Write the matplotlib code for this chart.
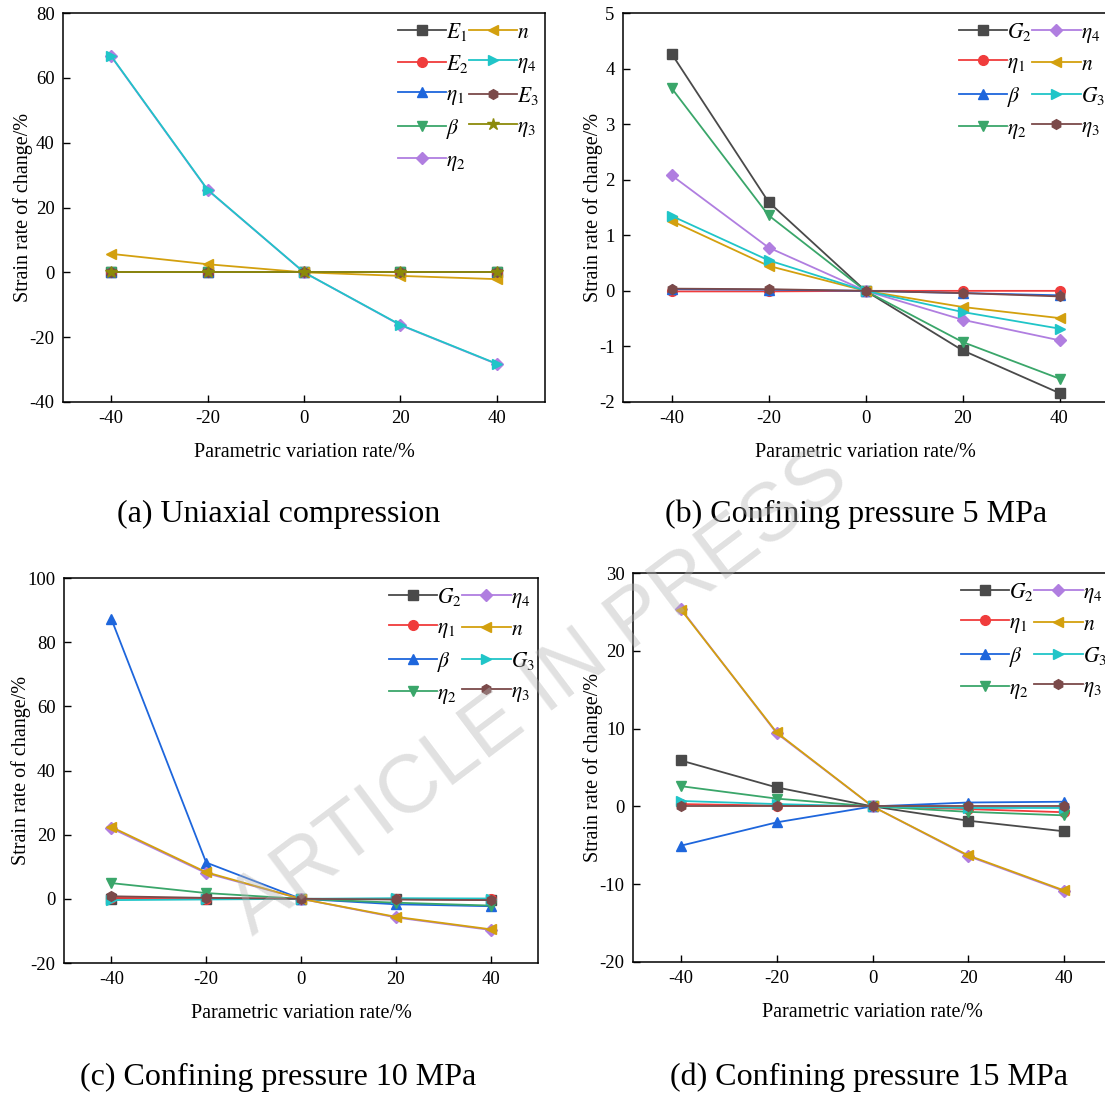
import numpy as np
import matplotlib
matplotlib.use("Agg")
import matplotlib.pyplot as plt

plt.rcParams['font.family'] = ['Liberation Serif', 'DejaVu Serif']
plt.rcParams['mathtext.fontset'] = 'stix'

# parameter variation (%) shared by all four panels
rates = [-40, -20, 0, 20, 40]

# (a) uniaxial compression
a_labels = [r'$E_1$', r'$E_2$', r'$\eta_1$', r'$\beta$', r'$\eta_2$',
            r'$n$', r'$\eta_4$', r'$E_3$', r'$\eta_3$']
a_E1 = [0, 0, 0, 0, 0]
a_E2 = [0, 0, 0, 0, 0]
a_eta1 = [0, 0, 0, 0, 0]
a_beta = [0, 0, 0, 0, 0]
a_eta2 = [66.6, 25.4, 0, -16.3, -28.3]
a_n = [5.7, 2.5, 0, -1.1, -2.1]
a_eta4 = [66.7, 25.5, 0, -16.2, -28.2]
a_E3 = [0, 0, 0, 0, 0]
a_eta3 = [0, 0, 0, 0, 0]

# (b)-(d) triaxial tests share the same parameter set
tri_labels = [r'$G_2$', r'$\eta_1$', r'$\beta$', r'$\eta_2$',
              r'$\eta_4$', r'$n$', r'$G_3$', r'$\eta_3$']

b_G2 = [4.27, 1.60, 0, -1.07, -1.84]
b_eta1 = [-0.01, -0.01, 0, 0.0, 0.0]
b_beta = [0.03, 0.02, 0, -0.04, -0.08]
b_eta2 = [3.65, 1.36, 0, -0.92, -1.58]
b_eta4 = [2.08, 0.78, 0, -0.52, -0.89]
b_n = [1.26, 0.45, 0, -0.29, -0.49]
b_G3 = [1.35, 0.55, 0, -0.38, -0.68]
b_eta3 = [0.04, 0.03, 0, -0.04, -0.10]

c_G2 = [0.1, 0.1, 0, -0.1, -0.3]
c_eta1 = [0.3, 0.1, 0, -0.1, -0.2]
c_beta = [87.2, 11.3, 0, -1.7, -2.3]
c_eta2 = [4.9, 1.8, 0, -1.2, -2.1]
c_eta4 = [22.0, 8.0, 0, -5.8, -9.7]
c_n = [22.4, 8.3, 0, -5.6, -9.5]
c_G3 = [-0.4, -0.2, 0, 0.2, 0.1]
c_eta3 = [0.8, 0.3, 0, -0.2, -0.4]

d_G2 = [5.9, 2.44, 0, -1.84, -3.2]
d_eta1 = [0.3, 0.1, 0, -0.35, -0.75]
d_beta = [-5.05, -2.05, 0, 0.5, 0.6]
d_eta2 = [2.6, 1.0, 0, -0.7, -1.15]
d_eta4 = [25.4, 9.4, 0, -6.4, -10.9]
d_n = [25.3, 9.5, 0, -6.3, -10.8]
d_G3 = [0.7, 0.3, 0, -0.2, -0.2]
d_eta3 = [0, 0, 0, 0, 0]

captions = ['(a) Uniaxial compression', '(b) Confining pressure 5 MPa',
            '(c) Confining pressure 10 MPa', '(d) Confining pressure 15 MPa']

# Origin-like colour / symbol cycle
colors = ['#4a4a4a', '#f03c3c', '#1e66dc', '#3aa66a', '#b07ee0',
          '#d3a00e', '#20c5c8', '#7b4a4a', '#8c8a0a']
markers = ['s', 'o', '^', 'v', 'D', '<', '>', 'h', '*']
tri_colors = colors[:8]
tri_markers = markers[:8]

W, H = 1105, 1095
fig = plt.figure(figsize=(W / 100, H / 100), dpi=100)


def px_rect(left, right, top, bottom):
    return [left / W, 1 - bottom / H, (right - left) / W, (bottom - top) / H]


def draw_panel(rect, series, labels, cols, marks, ylim, yticks, leg_xy):
    ax = fig.add_axes(rect)
    for vals, lab, c, m in zip(series, labels, cols, marks):
        ms = 9 if m == '*' else 7
        if m == 'D':
            ms = 6
        ax.plot(rates, vals, color=c, marker=m, markersize=ms, lw=1.3,
                markeredgecolor=c, label=lab)
    ax.set_xlim(-50, 50)
    ax.set_ylim(*ylim)
    ax.set_xticks(rates)
    ax.set_xticklabels([str(v) for v in rates])
    ax.set_yticks(yticks)
    ax.set_yticklabels([str(v) for v in yticks])
    ax.tick_params(direction='in', length=5, width=1.0, labelsize=13.5, pad=6)
    for sp in ax.spines.values():
        sp.set_linewidth(1.1)
    ax.set_xlabel('Parametric variation rate/%', fontsize=14.5, labelpad=11)
    ax.set_ylabel('Strain rate of change/%', fontsize=14.5, labelpad=-2.5)
    ax.legend(loc='upper left', bbox_to_anchor=(leg_xy[0] / W, 1 - leg_xy[1] / H),
              bbox_transform=fig.transFigure, ncol=2, frameon=False,
              fontsize=15.5, handlelength=2.25, handletextpad=0.0,
              columnspacing=0.0, labelspacing=0.46, borderpad=0.0,
              borderaxespad=0.0)
    return ax


draw_panel(px_rect(63, 545, 13, 402),
           [a_E1, a_E2, a_eta1, a_beta, a_eta2, a_n, a_eta4, a_E3, a_eta3],
           a_labels, colors, markers, (-40, 80), [-40, -20, 0, 20, 40, 60, 80],
           (398, 21))

draw_panel(px_rect(623, 1108, 13, 402),
           [b_G2, b_eta1, b_beta, b_eta2, b_eta4, b_n, b_G3, b_eta3],
           tri_labels, tri_colors, tri_markers, (-2, 5), [-2, -1, 0, 1, 2, 3, 4, 5],
           (959, 21))

draw_panel(px_rect(64, 538, 578, 963),
           [c_G2, c_eta1, c_beta, c_eta2, c_eta4, c_n, c_G3, c_eta3],
           tri_labels, tri_colors, tri_markers, (-20, 100), [-20, 0, 20, 40, 60, 80, 100],
           (389, 586))

draw_panel(px_rect(633, 1112, 573, 962),
           [d_G2, d_eta1, d_beta, d_eta2, d_eta4, d_n, d_G3, d_eta3],
           tri_labels, tri_colors, tri_markers, (-20, 30), [-20, -10, 0, 10, 20, 30],
           (961, 581))

# panel captions
cap_pos = [(279, 514), (856, 514), (278, 1077), (869, 1077)]
for txt, (x, y) in zip(captions, cap_pos):
    fig.text(x / W, 1 - y / H, txt, fontsize=23, ha='center', va='center')

# watermark across the figure
fig.text(540 / W, 1 - 693 / H, 'ARTICLE IN PRESS', fontsize=59,
         family='Liberation Sans', color='#b4b4b4', alpha=0.4,
         rotation=37, ha='center', va='center', zorder=10)

fig.savefig('out.png', dpi=100)
